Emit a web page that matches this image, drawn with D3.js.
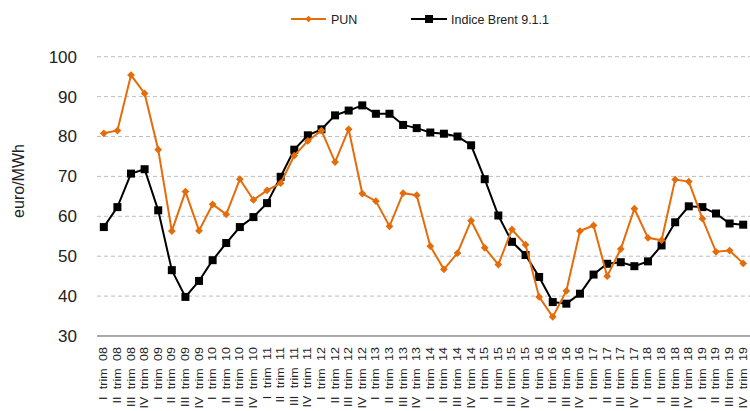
<!DOCTYPE html>
<html>
<head>
<meta charset="utf-8">
<script src="https://cdn.jsdelivr.net/npm/d3@7"></script>
<style>
  body { margin: 0; background: #fff; }
  svg { display: block; font-family: "Liberation Sans", Arial, sans-serif; }
</style>
</head>
<body>
<svg id="chart" width="750" height="411"></svg>
<script>
// quarters: I..IV trim 08 .. 19
var years = ['08', '09', '10', '11', '12', '13', '14', '15', '16', '17', '18', '19'];
var quarters = ['I', 'II', 'III', 'IV'];
var categories = [];
years.forEach(function(y) {
  quarters.forEach(function(q) { categories.push(q + ' trim ' + y); });
});

var pun = [80.8, 81.5, 95.4, 90.8, 76.7, 56.3, 66.2, 56.4,
           63.0, 60.5, 69.3, 64.1, 66.5, 68.3, 75.2, 78.9,
           81.5, 73.6, 81.8, 65.7, 63.8, 57.5, 65.8, 65.3,
           52.5, 46.7, 50.8, 58.9, 52.1, 47.9, 56.7, 52.9,
           39.8, 34.8, 41.3, 56.3, 57.7, 45.0, 51.8, 61.9,
           54.6, 54.0, 69.2, 68.7, 59.4, 51.1, 51.4, 48.2];

var brent = [57.3, 62.3, 70.7, 71.8, 61.5, 46.5, 39.8, 43.8,
             49.0, 53.3, 57.3, 59.8, 63.3, 69.9, 76.7, 80.3,
             81.8, 85.3, 86.5, 87.8, 85.7, 85.7, 82.9, 82.1,
             81.0, 80.7, 80.0, 77.8, 69.3, 60.2, 53.6, 50.3,
             44.8, 38.5, 38.1, 40.6, 45.4, 48.1, 48.5, 47.5,
             48.7, 52.7, 58.5, 62.5, 62.3, 60.7, 58.2, 57.9];

var yTicks = [30, 40, 50, 60, 70, 80, 90, 100];

var orange = '#E46C0A';

var svg = d3.select('#chart');
var margin = { left: 97, right: 0, top: 56.7, bottom: 75 };
var width = 750 - margin.left - margin.right;
var height = 411 - margin.top - margin.bottom;

var x = d3.scalePoint()
  .domain(categories)
  .range([0, width])
  .padding(0.5);

var y = d3.scaleLinear()
  .domain([30, 100])
  .range([height, 0]);

var g = svg.append('g')
  .attr('transform', 'translate(' + margin.left + ',' + margin.top + ')');

// gridlines
g.append('g').classed('grid', true)
  .selectAll('line')
  .data(yTicks.filter(function(d) { return d > 30; }))
  .enter().append('line')
  .attr('x1', 0)
  .attr('x2', width)
  .attr('y1', function(d) { return y(d); })
  .attr('y2', function(d) { return y(d); })
  .attr('stroke', '#bdbdbd')
  .attr('stroke-width', 1)
  .attr('stroke-dasharray', '4,3');

// y axis labels
var yAxis = g.append('g')
  .call(d3.axisLeft(y).tickValues(yTicks).tickSize(0).tickPadding(20));
yAxis.select('.domain').remove();
yAxis.selectAll('text')
  .attr('font-size', 17)
  .attr('fill', '#222')
  .attr('font-family', '"Liberation Sans", Arial, sans-serif');

// x axis baseline
g.append('line')
  .attr('x1', 0)
  .attr('x2', width)
  .attr('y1', y(30))
  .attr('y2', y(30))
  .attr('stroke', '#555')
  .attr('stroke-width', 1);

// x labels, rotated and squeezed like the original
g.append('g').classed('xlabels', true)
  .selectAll('text')
  .data(categories)
  .enter().append('text')
  .attr('transform', function(d) {
    return 'translate(' + (x(d) + 3.5) + ',' + (height + 11) + ') scale(0.8,1) rotate(-90)';
  })
  .attr('text-anchor', 'end')
  .attr('font-size', 12.5)
  .style('word-spacing', '4px')
  .attr('fill', '#222')
  .text(function(d) { return d; });

// y axis title
svg.append('text')
  .attr('transform', 'translate(24,181) rotate(-90)')
  .attr('text-anchor', 'middle')
  .attr('font-size', 16)
  .attr('fill', '#222')
  .text('euro/MWh');

var line = d3.line()
  .x(function(d, i) { return x(categories[i]); })
  .y(function(d) { return y(d); });

// Brent series
g.append('path')
  .datum(brent)
  .attr('d', line)
  .attr('fill', 'none')
  .attr('stroke', '#000')
  .attr('stroke-width', 2);

g.append('g').selectAll('rect')
  .data(brent)
  .enter().append('rect')
  .attr('x', function(d, i) { return x(categories[i]) - 4; })
  .attr('y', function(d) { return y(d) - 4; })
  .attr('width', 8)
  .attr('height', 8)
  .attr('fill', '#000');

// PUN series
g.append('path')
  .datum(pun)
  .attr('d', line)
  .attr('fill', 'none')
  .attr('stroke', orange)
  .attr('stroke-width', 2);

g.append('g').selectAll('path')
  .data(pun)
  .enter().append('path')
  .attr('d', d3.symbol().type(d3.symbolSquare).size(30))
  .attr('transform', function(d, i) {
    return 'translate(' + x(categories[i]) + ',' + y(d) + ') rotate(45)';
  })
  .attr('fill', orange);

// legend
var legend = svg.append('g').attr('transform', 'translate(0,19)');

legend.append('line')
  .attr('x1', 291).attr('x2', 326).attr('y1', 0).attr('y2', 0)
  .attr('stroke', orange).attr('stroke-width', 2);
legend.append('path')
  .attr('d', d3.symbol().type(d3.symbolSquare).size(22))
  .attr('transform', 'translate(308.5,0) rotate(45)')
  .attr('fill', orange);
legend.append('text')
  .attr('x', 331).attr('y', 4.5)
  .attr('font-size', 12.5)
  .attr('fill', '#222')
  .text('PUN');

legend.append('line')
  .attr('x1', 411).attr('x2', 447).attr('y1', 0).attr('y2', 0)
  .attr('stroke', '#000').attr('stroke-width', 2);
legend.append('rect')
  .attr('x', 425).attr('y', -4).attr('width', 8).attr('height', 8)
  .attr('fill', '#000');
legend.append('text')
  .attr('x', 451).attr('y', 4.5)
  .attr('font-size', 12.5)
  .attr('fill', '#222')
  .text('Indice Brent 9.1.1');
</script>
</body>
</html>
